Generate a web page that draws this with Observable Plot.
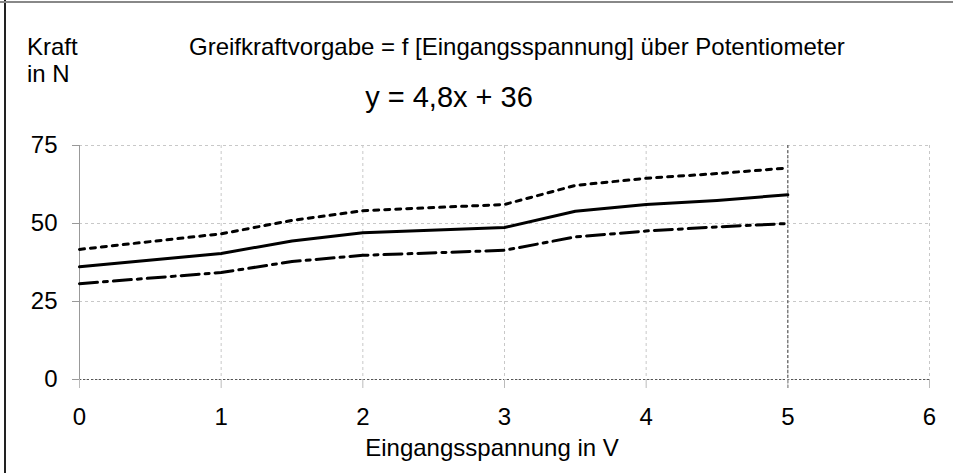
<!DOCTYPE html>
<html>
<head>
<meta charset="utf-8">
<script src="https://cdn.jsdelivr.net/npm/d3@7"></script>
<script src="https://cdn.jsdelivr.net/npm/@observablehq/plot@0.6"></script>
<style>
  html, body { margin: 0; padding: 0; background: #fff; }
  #wrap { position: relative; width: 953px; height: 473px; overflow: hidden; font-family: "Liberation Sans", Arial, sans-serif; color: #000; }
  #wrap svg { position: absolute; left: 0; top: 0; }
  .t { position: absolute; white-space: nowrap; line-height: 1; }
  #bl { position: absolute; left: 4px; top: 0; width: 1.5px; height: 473px; background: #222; }
  #bt { position: absolute; left: 0; top: 1px; width: 953px; height: 2px; background: #888; }
</style>
</head>
<body>
<div id="wrap">
  <div id="chart"></div>
  <div id="bl"></div>
  <div id="bt"></div>
  <div class="t" id="title" style="left:189px; top:35px; font-size:24px;"></div>
  <div class="t" id="ylab1" style="left:27px; top:35px; font-size:24px;"></div>
  <div class="t" id="ylab2" style="left:27px; top:62px; font-size:24px;"></div>
  <div class="t" id="eq" style="left:449px; top:97px; font-size:29px; transform:translate(-50%,-50%);"></div>
  <div class="t" id="xlab" style="left:492px; top:448px; font-size:24px; transform:translate(-50%,-50%);"></div>
</div>
<script>
const titleText = "Greifkraftvorgabe = f [Eingangsspannung] über Potentiometer";
const yLabelLines = ["Kraft", "in N"];
const equationText = "y = 4,8x + 36";
const xLabelText = "Eingangsspannung in V";

const xTicks = [0, 1, 2, 3, 4, 5, 6];
const yTicks = [0, 25, 50, 75];

const voltage = [0, 1, 1.5, 2, 3, 3.5, 4, 4.5, 5];
const forceMid = [36.1, 40.4, 44.4, 47.0, 48.7, 53.9, 56.1, 57.4, 59.2];
const forceUpper = [41.7, 46.7, 51.0, 54.1, 56.1, 62.2, 64.5, 66.0, 67.8];
const forceLower = [30.7, 34.3, 37.8, 39.8, 41.4, 45.7, 47.6, 48.9, 50.0];

const markerX = 5;

const toRows = (ys) => voltage.map((x, i) => ({x, y: ys[i]}));

document.getElementById("title").textContent = titleText;
document.getElementById("ylab1").textContent = yLabelLines[0];
document.getElementById("ylab2").textContent = yLabelLines[1];
document.getElementById("eq").textContent = equationText;
document.getElementById("xlab").textContent = xLabelText;

const chart = Plot.plot({
  width: 953,
  height: 473,
  marginLeft: 79,
  marginRight: 24,
  marginTop: 145,
  marginBottom: 94,
  x: {domain: [0, 6]},
  y: {domain: [0, 75]},
  style: {fontFamily: "'Liberation Sans', Arial, sans-serif", fontSize: "24px", background: "transparent", color: "#000"},
  marks: [
    Plot.gridX(xTicks, {stroke: "#c8c8c8", strokeOpacity: 1, strokeDasharray: "3,3"}),
    Plot.gridY(yTicks, {stroke: "#c8c8c8", strokeOpacity: 1, strokeDasharray: "3,3"}),
    Plot.ruleX([0], {stroke: "#999", strokeWidth: 1}),
    Plot.ruleY([0], {stroke: "#555", strokeDasharray: "2,2", strokeWidth: 1}),
    Plot.ruleX([markerX], {y1: 75, y2: -3, stroke: "#444", strokeDasharray: "3,2", strokeWidth: 1}),
    Plot.axisY(yTicks, {tickSize: 7, tickPadding: 15, stroke: "#999", fill: "#000", label: null, fontSize: 24, tickFormat: d => String(d)}),
    Plot.axisX(xTicks, {tickSize: 9, tickPadding: 19, stroke: "#bbb", fill: "#000", label: null, fontSize: 24, tickFormat: d => String(d)}),
    Plot.line(toRows(forceUpper), {x: "x", y: "y", stroke: "#000", strokeWidth: 3, strokeDasharray: "5,6"}),
    Plot.line(toRows(forceMid), {x: "x", y: "y", stroke: "#000", strokeWidth: 3}),
    Plot.line(toRows(forceLower), {x: "x", y: "y", stroke: "#000", strokeWidth: 3, strokeDasharray: "18,6,4,6"})
  ]
});
document.getElementById("chart").appendChild(chart);
</script>
</body>
</html>
